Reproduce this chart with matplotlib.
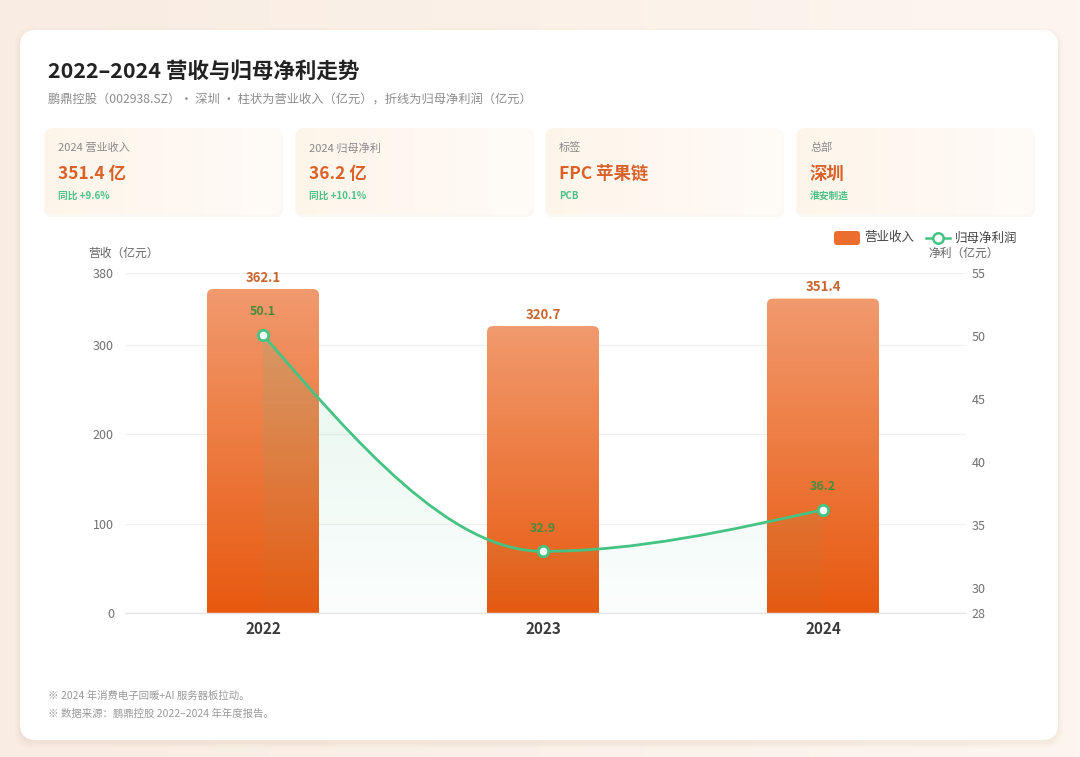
import numpy as np
import matplotlib.pyplot as plt
from matplotlib.patches import FancyBboxPatch, PathPatch
from matplotlib.path import Path
from matplotlib.colors import LinearSegmentedColormap, to_rgb

plt.rcParams['font.family'] = ['Noto Sans CJK SC', 'DejaVu Sans']

# -------- 数据 --------
years = ['2022', '2023', '2024']
revenue = [362.1, 320.7, 351.4]      # 营业收入（亿元）
profit = [50.1, 32.9, 36.2]          # 归母净利润（亿元）
left_ticks = [0, 100, 200, 300, 380]
right_ticks = [28, 30, 35, 40, 45, 50, 55]

card_titles = ['2024 营业收入', '2024 归母净利', '标签', '总部']
card_values = ['351.4 亿', '36.2 亿', 'FPC 苹果链', '深圳']
card_notes = ['同比 +9.6%', '同比 +10.1%', 'PCB', '淮安制造']

title = '2022–2024 营收与归母净利走势'
subtitle = '鹏鼎控股（002938.SZ）• 深圳 • 柱状为营业收入（亿元），折线为归母净利润（亿元）'
notes = ['※ 2024 年消费电子回暖+AI 服务器板拉动。',
         '※ 数据来源：鹏鼎控股 2022–2024 年年度报告。']

# -------- 配色 --------
ORANGE_TOP = '#F19A6E'
ORANGE_BOT = '#E8590F'
GREEN = '#45C383'
GREEN_TXT = '#4C8B3B'
ORANGE_TXT = '#C9652F'
VALUE_ORANGE = '#D9622B'

W, H = 1080, 757
fig = plt.figure(figsize=(W / 100, H / 100), dpi=100)

# -------- 背景层（像素坐标）--------
bg = fig.add_axes([0, 0, 1, 1])
bg.set_xlim(0, W)
bg.set_ylim(H, 0)
bg.axis('off')

c1, c2 = np.array(to_rgb('#F9ECE2')), np.array(to_rgb('#FDF6EF'))
grad = np.linspace(0, 1, 256)[None, :, None]
bg_img = c1 + (c2 - c1) * grad
bg.imshow(bg_img, extent=[0, W, H, 0], aspect='auto', zorder=0)

# 主卡片阴影 + 卡片
for k, a in [(10, 0.05), (6, 0.07), (3, 0.08)]:
    bg.add_patch(FancyBboxPatch((20 - k / 2, 30 - k / 2 + 3), 1038 + k, 710 + k,
                                boxstyle='round,pad=0,rounding_size=18',
                                fc='#D9BFA8', ec='none', alpha=a, zorder=1))
bg.add_patch(FancyBboxPatch((20, 30), 1038, 710, boxstyle='round,pad=0,rounding_size=16',
                            fc='white', ec='none', zorder=2))

bg.text(48, 71, title, fontsize=15.5, fontweight='bold', color='#222222', va='center', zorder=3)
bg.text(48, 100, subtitle, fontsize=8.8, color='#8C8C8C', va='center', zorder=3)

# 指标卡片
card_x = [45, 296, 546, 797]
cc1, cc2 = np.array(to_rgb('#FEF5EA')), np.array(to_rgb('#FFFBF7'))
card_img = cc1 + (cc2 - cc1) * grad
for x0, t, v, n in zip(card_x, card_titles, card_values, card_notes):
    bg.add_patch(FancyBboxPatch((x0 - 1, 129), 239, 88, boxstyle='round,pad=0,rounding_size=8',
                                fc='#F3E3D3', ec='none', alpha=0.25, zorder=2.5))
    box = FancyBboxPatch((x0, 128), 237, 86, boxstyle='round,pad=0,rounding_size=8',
                         fc='none', ec='none', zorder=3)
    bg.add_patch(box)
    im = bg.imshow(card_img, extent=[x0, x0 + 237, 214, 128], aspect='auto', zorder=3)
    im.set_clip_path(box)
    bg.text(x0 + 13, 148, t, fontsize=8, color='#8A8A8A', va='center', zorder=4)
    bg.text(x0 + 13, 174, v, fontsize=12.5, fontweight='bold', color=VALUE_ORANGE, va='center', zorder=4)
    bg.text(x0 + 13, 196, n, fontsize=7, fontweight='bold', color='#4CC287', va='center', zorder=4)

# 图例
bg.add_patch(FancyBboxPatch((834, 231), 26, 14, boxstyle='round,pad=0,rounding_size=3',
                            fc='#EC6E2E', ec='none', zorder=4))
bg.text(864, 238, '营业收入', fontsize=9, color='#444444', va='center', zorder=4)
bg.plot([926, 950], [238, 238], color=GREEN, lw=1.8, zorder=4)
bg.plot([938], [238], 'o', ms=7.5, mfc='white', mec=GREEN, mew=1.8, zorder=5)
bg.text(955, 238, '归母净利润', fontsize=9, color='#444444', va='center', zorder=4)

# 轴标题
bg.text(88, 253, '营收（亿元）', fontsize=8.5, color='#666666', va='center', zorder=4)
bg.text(928, 253, '净利（亿元）', fontsize=8.5, color='#666666', va='center', zorder=4)

# 脚注
for i, s in enumerate(notes):
    bg.text(48, 696 + i * 18, s, fontsize=7.5, color='#9A9A9A', va='center', zorder=4)

# -------- 主图 --------
ax_l, ax_r, ax_t, ax_b = 125, 965, 273, 613
ax = fig.add_axes([ax_l / W, 1 - ax_b / H, (ax_r - ax_l) / W, (ax_b - ax_t) / H])
ax.patch.set_alpha(0)
x = np.arange(len(years))
cx0 = 263
step = 280
xmin = (ax_l - cx0) / step
xmax = (ax_r - cx0) / step
ymax = left_ticks[-1]
px_x = step
px_y = (ax_b - ax_t) / ymax

bar_w = 0.4
bar_cmap = LinearSegmentedColormap.from_list('bar', [ORANGE_BOT, ORANGE_TOP])
vgrad = np.linspace(0, 1, 256)[:, None]
for xi, r in zip(x, revenue):
    patch = FancyBboxPatch((xi - bar_w / 2, -20), bar_w, r + 20,
                           boxstyle='round,pad=0,rounding_size=%f' % (6 / px_x),
                           mutation_aspect=px_x / px_y, fc='none', ec='none', zorder=2)
    ax.add_patch(patch)
    im = ax.imshow(vgrad, extent=[xi - bar_w / 2, xi + bar_w / 2, 0, r], origin='lower',
                   aspect='auto', cmap=bar_cmap, zorder=2)
    im.set_clip_path(patch)
    ax.annotate(f'{r}', (xi, r), xytext=(0, 8), textcoords='offset points',
                ha='center', va='center', fontsize=9.5, fontweight='bold', color=ORANGE_TXT, zorder=5)

ax.set_xlim(xmin, xmax)
ax.set_ylim(0, ymax)
ax.set_yticks(left_ticks)
ax.set_xticks(x)
ax.set_xticklabels(years, fontsize=11, fontweight='bold', color='#3A3A3A')
ax.tick_params(axis='x', length=0, pad=6)
ax.tick_params(axis='y', length=0, pad=8, labelsize=9, labelcolor='#707070')
ax.grid(axis='y', color='#F0F0F0', lw=0.9, zorder=0)
ax.set_axisbelow(True)
for sp in ['top', 'right', 'left']:
    ax.spines[sp].set_visible(False)
ax.spines['bottom'].set_color('#E6E6E6')
ax.spines['bottom'].set_linewidth(1.0)

# 右轴：归母净利润（单调三次平滑曲线）
ax2 = ax.twinx()
ax2.set_ylim(right_ticks[0], right_ticks[-1])
ax2.set_yticks(right_ticks)
ax2.tick_params(axis='y', length=0, pad=5, labelsize=9, labelcolor='#707070')
for sp in ax2.spines.values():
    sp.set_visible(False)

py = np.array(profit, dtype=float)
px = x.astype(float)
sec = np.diff(py) / np.diff(px)
tan = np.zeros_like(py)
for i in range(1, len(py) - 1):
    if sec[i - 1] * sec[i] > 0:
        h0, h1 = px[i] - px[i - 1], px[i + 1] - px[i]
        p = (sec[i - 1] * h1 + sec[i] * h0) / (h0 + h1)
        tan[i] = np.sign(sec[i]) * min(abs(sec[i - 1]), abs(sec[i]), 0.5 * abs(p)) * 2
tan[0] = (3 * sec[0] - tan[1]) / 2
tan[-1] = (3 * sec[-1] - tan[-2]) / 2

verts = [(px[0], py[0])]
codes = [Path.MOVETO]
for i in range(len(py) - 1):
    dx = px[i + 1] - px[i]
    verts += [(px[i] + dx / 3, py[i] + tan[i] * dx / 3),
              (px[i + 1] - dx / 3, py[i + 1] - tan[i + 1] * dx / 3),
              (px[i + 1], py[i + 1])]
    codes += [Path.CURVE4] * 3

ybot = right_ticks[0]
fill_path = Path(verts + [(px[-1], ybot), (px[0], ybot), (px[0], py[0])],
                 codes + [Path.LINETO, Path.LINETO, Path.CLOSEPOLY])
fill_patch = PathPatch(fill_path, fc='none', ec='none')
ax2.add_patch(fill_patch)
g = np.array(to_rgb(GREEN))
fill_img = np.zeros((256, 2, 4))
fill_img[..., :3] = g
fill_img[..., 3] = np.linspace(0.02, 0.17, 256)[:, None]
fim = ax2.imshow(fill_img, extent=[px[0], px[-1], ybot, right_ticks[-1]], origin='lower',
                 aspect='auto', zorder=3)
fim.set_clip_path(fill_patch)

ax2.add_patch(PathPatch(Path(verts, codes), fc='none', ec=GREEN, lw=2.0, zorder=4,
                        capstyle='round'))
ax2.plot(px, py, 'o', ms=7.5, mfc='white', mec=GREEN, mew=2.0, zorder=6)
for xi, v in zip(px, py):
    ax2.annotate(f'{v}', (xi, v), xytext=(0, 16.5), textcoords='offset points',
                 ha='center', va='center', fontsize=9, fontweight='bold', color=GREEN_TXT, zorder=7)

ax2.set_xlim(xmin, xmax)
ax2.set_ylim(right_ticks[0], right_ticks[-1])

fig.savefig('out.png', dpi=100)
